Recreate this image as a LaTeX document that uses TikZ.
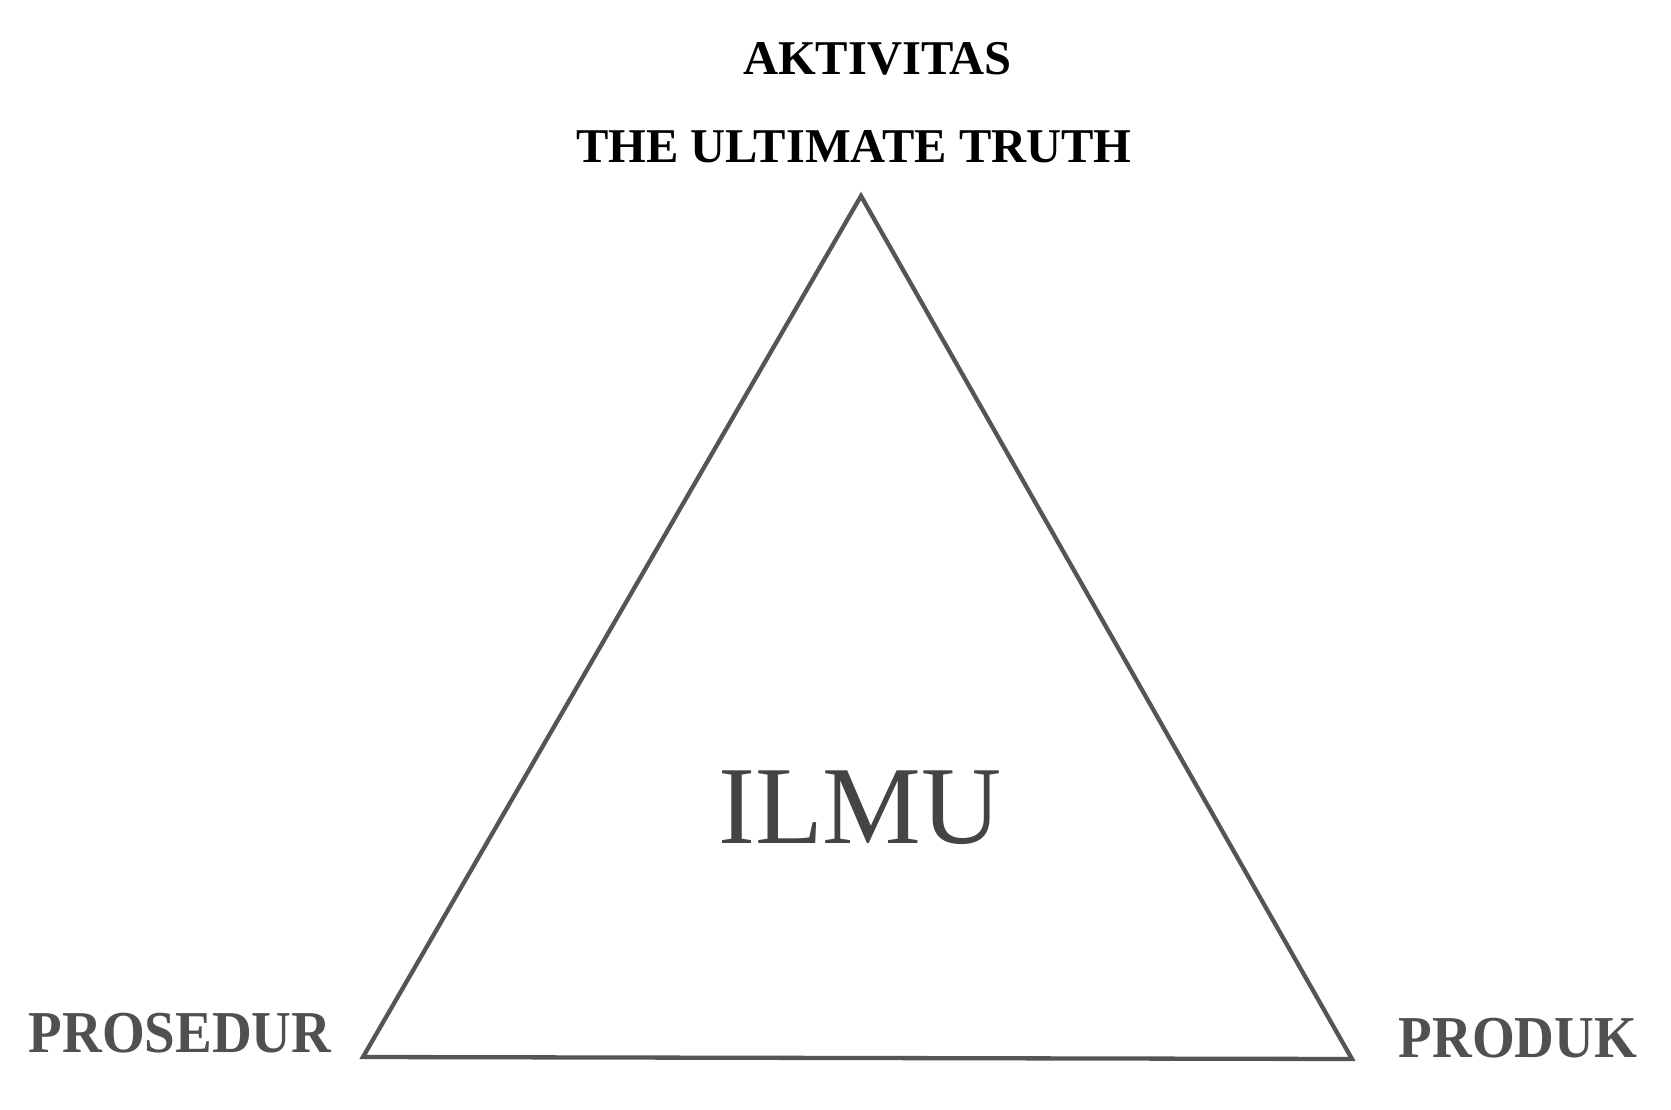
\documentclass[tikz,border=0pt]{standalone}
\usepackage{fontspec}
\setmainfont{Liberation Serif}
\definecolor{linegray}{HTML}{555555}
\definecolor{labgray}{HTML}{505050}
\definecolor{ilmugray}{HTML}{444444}
\begin{document}
\begin{tikzpicture}[x=1pt,y=-1pt,
  toplabel/.style={anchor=base,inner sep=0pt,font=\fontsize{48.5}{54}\selectfont\bfseries,text=black},
  sidelabel/.style={anchor=base,inner sep=0pt,font=\fontsize{55}{60}\selectfont\bfseries,text=labgray},
  centerlabel/.style={anchor=base,inner sep=0pt,font=\fontsize{111}{120}\selectfont,text=ilmugray},
  edge/.style={draw=linegray,line width=4.3pt,line join=miter}]
\useasboundingbox (0,0) rectangle (1671,1110);
\fill[white] (0,0) rectangle (1671,1110);
\node[toplabel] (akt) at (877.5,75) {AKTIVITAS};
\node[toplabel] (truth) at (854,163) {THE ULTIMATE TRUTH};
\coordinate (top) at (861,196);
\coordinate (bl) at (363,1057);
\coordinate (br) at (1352,1059);
\draw[edge] (top) -- (bl) -- (br) -- cycle;
\node[centerlabel] (ilmu) at (860,843) {ILMU};
\node[sidelabel] (pros) at (180,1052) {\scalebox{1}[1.08]{PROSEDUR}};
\node[sidelabel] (prod) at (1518,1057) {\scalebox{1}[1.08]{PRODUK}};
\end{tikzpicture}
\end{document}
